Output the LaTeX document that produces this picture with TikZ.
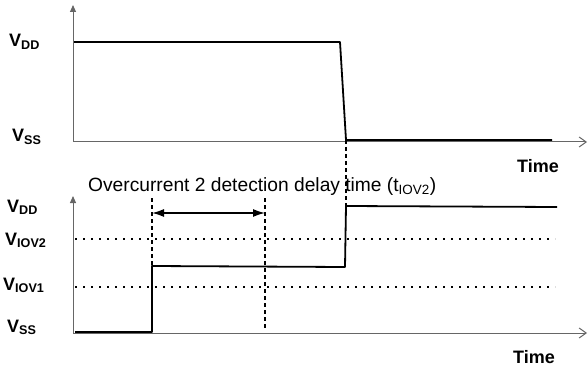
\documentclass[tikz,border=0pt]{standalone}
\usepackage{fontspec}
\setmainfont{Liberation Sans}
\usetikzlibrary{arrows.meta}
\tikzstyle{every node}=[inner sep=0pt,font=\fontsize{19.2}{21}\selectfont]
\tikzstyle{level}=[anchor=base west,font=\fontsize{18}{20}\selectfont\bfseries]
\tikzstyle{axis}=[black!60,line width=1pt]
\tikzstyle{signal}=[black,line width=1.8pt,line join=round]
\tikzstyle{guide}=[black,line width=1.1pt,dash pattern=on 4pt off 3pt]
\tikzstyle{threshold}=[black,line width=1.8pt,dash pattern=on 1.8pt off 6.2pt]

\begin{document}
\begin{tikzpicture}[x=1pt,y=-1pt]
  \useasboundingbox (0,0) rectangle (588,366);

  \coordinate (topo) at (73,142);
  \coordinate (topy) at (73,5);
  \coordinate (topx) at (587,142);
  \coordinate (boto) at (73,333);
  \coordinate (boty) at (73,196);
  \coordinate (botx) at (587,333);

  \node[level] (vdd1) at (9,47) {V\textsubscript{DD}};
  \node[level] (vss1) at (12,142) {V\textsubscript{SS}};
  \node[level] (time1) at (517,172) {Time};
  \node[level] (vdd2) at (7,212) {V\textsubscript{DD}};
  \node[level] (viov2) at (5,245) {V\textsubscript{IOV2}};
  \node[level] (viov1) at (3,290) {V\textsubscript{IOV1}};
  \node[level] (vss2) at (7,332) {V\textsubscript{SS}};
  \node[level] (time2) at (513,363) {Time};
  \node[anchor=base west] (title) at (88,191)
    {Overcurrent 2 detection delay time (t\textsubscript{IOV2})};

  \draw[axis,-{Triangle[length=7pt,width=6pt]}] (topo) -- (topy);
  \draw[axis,-{Straight Barb[length=7pt,width=10pt]}] (topo) -- (topx);
  \draw[axis,-{Triangle[length=7pt,width=6pt]}] (boto) -- (boty);
  \draw[axis,-{Straight Barb[length=7pt,width=10pt]}] (boto) -- (botx);

  \coordinate (a0) at (74,42);
  \coordinate (a1) at (340,42);
  \coordinate (a2) at (346,140);
  \coordinate (a3) at (552,140);
  \draw[signal] (a0) -- (a1) -- (a2) -- (a3);

  \draw[threshold] (75,239) -- (555,239);
  \draw[threshold] (75,287) -- (555,287);

  \coordinate (t1) at (152,198);
  \coordinate (t1b) at (152,332);
  \coordinate (t2) at (265,198);
  \coordinate (t2b) at (265,330);
  \draw[guide] (t1) -- (t1b);
  \draw[guide] (t2) -- (t2b);
  \draw[guide] (a2) -- (346,206);
  \draw[black,line width=1.5pt,{Latex[length=12pt,width=8pt]}-{Latex[length=12pt,width=8pt]}]
    (152,213) -- (265,213);

  \coordinate (b0) at (75,332);
  \coordinate (b1) at (152,332);
  \coordinate (b2) at (152,266);
  \coordinate (b3) at (345,267);
  \coordinate (b4) at (346,206);
  \coordinate (b5) at (557,207);
  \draw[signal] (b0) -- (b1) -- (b2) -- (b3) -- (b4) -- (b5);
\end{tikzpicture}
\end{document}
